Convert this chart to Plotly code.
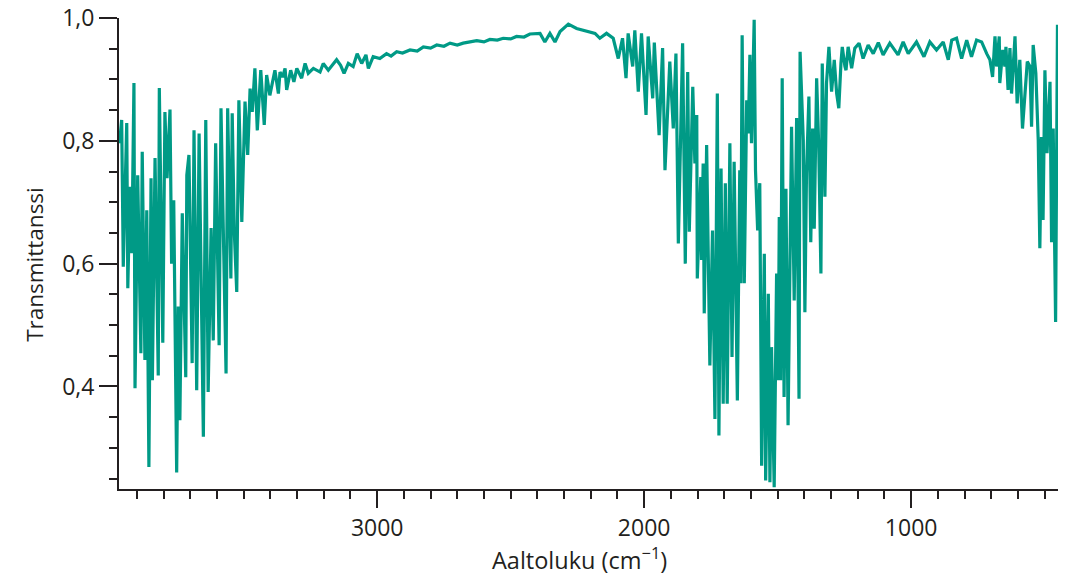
import plotly.graph_objects as go

# Wavenumber (cm^-1) and transmittance
wavenumber = [
    3965, 3957, 3951, 3938, 3934, 3926, 3919, 3911, 3907, 3897,
    3885, 3880, 3870, 3863, 3855, 3847, 3842, 3832, 3820, 3816,
    3803, 3795, 3787, 3776, 3770, 3762, 3751, 3745, 3739, 3730,
    3717, 3713, 3705, 3693, 3686, 3676, 3667, 3660, 3651, 3642,
    3633, 3622, 3614, 3605, 3592, 3585, 3576, 3566, 3560, 3548,
    3543, 3535, 3526, 3518, 3507, 3495, 3485, 3476, 3468, 3458,
    3449, 3436, 3423, 3414, 3402,
    3383, 3370, 3364, 3354, 3345, 3339, 3324, 3312, 3301, 3283,
    3270, 3258, 3239, 3214, 3202, 3183, 3152, 3137, 3124, 3108,
    3090, 3075, 3058, 3042, 3033, 3015, 2990, 2965, 2948, 2927,
    2905, 2877, 2850, 2827, 2800, 2777, 2750, 2727, 2700, 2678,
    2650, 2627, 2600, 2578, 2550, 2528, 2500, 2478, 2450, 2428,
    2390, 2372, 2353, 2334, 2315, 2284, 2253, 2215, 2184, 2166,
    2141, 2116, 2097,
    2081, 2068, 2060, 2043, 2035, 2022, 2010, 1993, 1985, 1968,
    1962, 1944, 1931, 1922, 1904, 1891, 1881, 1872, 1856, 1846,
    1837, 1831, 1818, 1810, 1803, 1801, 1788, 1785, 1779, 1775,
    1766, 1754, 1744, 1735, 1726, 1720, 1712, 1704, 1696, 1689,
    1679, 1671, 1663, 1651,
    1642, 1638, 1633, 1625, 1616, 1610, 1604, 1598, 1588, 1583,
    1575, 1567, 1560, 1550, 1545, 1535, 1529, 1523, 1513, 1504,
    1498, 1494, 1489, 1483, 1476, 1469, 1461, 1454, 1448, 1438,
    1429, 1420, 1416, 1404, 1398, 1392, 1383, 1376, 1369, 1363,
    1354, 1346, 1338, 1333, 1323, 1317, 1308, 1298, 1288, 1279,
    1271, 1263, 1258, 1248,
    1244, 1236, 1223, 1211, 1195, 1180, 1161, 1142, 1123, 1105,
    1080, 1049, 1030, 1011, 980, 952, 930, 905, 880, 861,
    848, 830, 811, 792, 774, 755, 736, 717,
    705, 695, 686, 680, 670, 668, 657, 649, 645, 637,
    630, 624, 618, 611, 603, 593, 583, 574, 565, 555,
    549, 543, 533, 524, 518, 512, 506, 499, 491, 480,
    474, 468, 459, 452,
]

transmittance = [
    0.796, 0.834, 0.595, 0.829, 0.560, 0.725, 0.617, 0.894, 0.397, 0.744,
    0.454, 0.782, 0.443, 0.687, 0.269, 0.739, 0.410, 0.772, 0.418, 0.886,
    0.471, 0.847, 0.739, 0.851, 0.600, 0.703, 0.260, 0.530, 0.345, 0.682,
    0.415, 0.744, 0.777, 0.438, 0.817, 0.394, 0.812, 0.584, 0.318, 0.834,
    0.391, 0.658, 0.475, 0.796, 0.467, 0.853, 0.611, 0.421, 0.853, 0.576,
    0.845, 0.650, 0.554, 0.866, 0.668, 0.864, 0.777, 0.885, 0.847, 0.918,
    0.817, 0.915, 0.826, 0.907, 0.874,
    0.915, 0.877, 0.912, 0.904, 0.918, 0.883, 0.915, 0.896, 0.918, 0.902,
    0.926, 0.910, 0.918, 0.912, 0.926, 0.915, 0.932, 0.923, 0.910, 0.926,
    0.921, 0.942, 0.926, 0.940, 0.918, 0.937, 0.934, 0.942, 0.938, 0.945,
    0.943, 0.948, 0.946, 0.953, 0.951, 0.956, 0.954, 0.959, 0.956, 0.959,
    0.961, 0.963, 0.961, 0.965, 0.964, 0.967, 0.966, 0.970, 0.969, 0.974,
    0.975, 0.961, 0.975, 0.961, 0.978, 0.990, 0.983, 0.978, 0.975, 0.967,
    0.975, 0.967, 0.934,
    0.967, 0.902, 0.975, 0.921, 0.980, 0.880, 0.975, 0.842, 0.970, 0.869,
    0.960, 0.809, 0.951, 0.752, 0.929, 0.820, 0.942, 0.633, 0.959, 0.600,
    0.912, 0.652, 0.888, 0.763, 0.842, 0.576, 0.741, 0.606, 0.763, 0.519,
    0.793, 0.434, 0.654, 0.347, 0.877, 0.320, 0.755, 0.372, 0.731, 0.372,
    0.796, 0.448, 0.766, 0.377,
    0.752, 0.568, 0.972, 0.568, 0.866, 0.812, 0.940, 0.796, 0.997, 0.752,
    0.654, 0.731, 0.271, 0.616, 0.247, 0.551, 0.244, 0.464, 0.236, 0.584,
    0.410, 0.676, 0.410, 0.902, 0.383, 0.722, 0.337, 0.616, 0.823, 0.540,
    0.837, 0.380, 0.945, 0.801, 0.521, 0.747, 0.872, 0.635, 0.820, 0.657,
    0.902, 0.788, 0.584, 0.926, 0.709, 0.894, 0.953, 0.880, 0.932, 0.877,
    0.853, 0.926, 0.953, 0.921,
    0.915, 0.953, 0.918, 0.951, 0.959, 0.934, 0.956, 0.942, 0.960, 0.940,
    0.959, 0.940, 0.961, 0.942, 0.961, 0.937, 0.961, 0.948, 0.961, 0.932,
    0.964, 0.967, 0.934, 0.964, 0.937, 0.964, 0.961, 0.942,
    0.932, 0.904, 0.970, 0.921, 0.970, 0.894, 0.948, 0.921, 0.953, 0.883,
    0.951, 0.877, 0.932, 0.970, 0.861, 0.932, 0.820, 0.885, 0.929, 0.921,
    0.823, 0.956, 0.910, 0.801, 0.625, 0.806, 0.671, 0.915, 0.780, 0.896,
    0.635, 0.820, 0.505, 0.989,
]

y_tick_vals = [0.4, 0.6, 0.8, 1.0]
y_tick_text = ["0,4", "0,6", "0,8", "1,0"]
x_tick_vals = [3000, 2000, 1000]
x_tick_text = ["3000", "2000", "1000"]

x_title = "Aaltoluku (cm<sup>−1</sup>)"
y_title = "Transmittanssi"

line_color = "#009a86"
axis_color = "#231f20"
font_family = "Open Sans, sans-serif"

fig = go.Figure()
fig.add_trace(go.Scatter(
    x=wavenumber, y=transmittance, mode="lines",
    line=dict(color=line_color, width=3.2), showlegend=False,
))

fig.update_layout(
    width=1069, height=576,
    margin=dict(l=119, r=11, t=18, b=87, autoexpand=False),
    paper_bgcolor="white", plot_bgcolor="white",
    font=dict(family=font_family, color=axis_color, size=23),
    showlegend=False,
    annotations=[
        dict(text=x_title, xref="paper", yref="paper", x=0.49, y=-0.148,
             xanchor="center", yanchor="middle", showarrow=False, borderpad=0,
             font=dict(size=23.5, family=font_family, color=axis_color)),
        dict(text=y_title, xref="paper", yref="paper", x=-0.0895, y=0.478,
             xanchor="center", yanchor="middle", showarrow=False, textangle=-90,
             font=dict(size=22.5, family=font_family, color=axis_color)),
    ],
)

fig.update_xaxes(
    range=[3967, 450], showgrid=False, zeroline=False, automargin=False,
    showline=True, linecolor=axis_color, linewidth=2,
    ticks="outside", ticklen=17, tickwidth=2, tickcolor=axis_color,
    tickmode="array", tickvals=x_tick_vals, ticktext=x_tick_text,
    tickfont=dict(size=23),
    minor=dict(tickmode="linear", tick0=0, dtick=100, ticks="outside",
               ticklen=8, tickwidth=2, tickcolor=axis_color, showgrid=False),
)
fig.update_yaxes(
    range=[0.233, 1.0], showgrid=False, zeroline=False, automargin=False,
    showline=True, linecolor=axis_color, linewidth=2,
    ticks="outside", ticklen=18, tickwidth=2, tickcolor=axis_color,
    tickmode="array", tickvals=y_tick_vals, ticktext=y_tick_text,
    tickfont=dict(size=23),
    minor=dict(tickmode="linear", tick0=0, dtick=0.05, ticks="outside",
               ticklen=8, tickwidth=2, tickcolor=axis_color, showgrid=False),
)

fig.write_html("out.html", config={"displayModeBar": False},
               post_script="document.body.style.margin='0';")
